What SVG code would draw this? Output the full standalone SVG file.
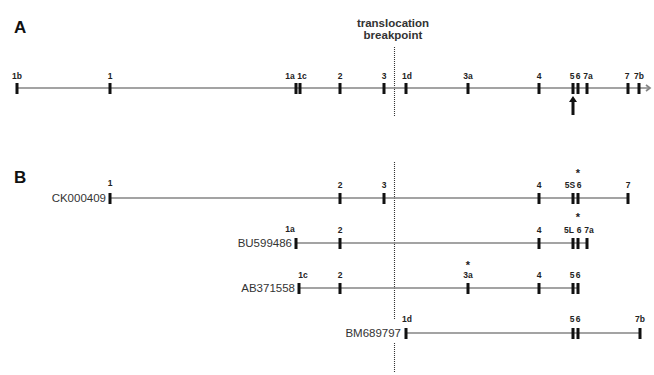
<svg xmlns="http://www.w3.org/2000/svg" width="654" height="375" viewBox="0 0 654 375">
<defs>
<style>
.ln{stroke:#858585;stroke-width:1.7;fill:none}
.ex{fill:#111}
.lb{font-family:"Liberation Sans",Arial,sans-serif;font-size:8.5px;font-weight:bold;fill:#222;text-anchor:middle}
.nm{font-family:"Liberation Sans",Arial,sans-serif;font-size:11.5px;fill:#333;text-anchor:end}
.pn{font-family:"Liberation Sans",Arial,sans-serif;font-size:17px;font-weight:bold;fill:#111}
.tt{font-family:"Liberation Sans",Arial,sans-serif;font-size:11.5px;font-weight:bold;fill:#333;text-anchor:middle}
.st{font-family:"Liberation Sans",Arial,sans-serif;font-size:11px;font-weight:bold;fill:#222;text-anchor:middle}
.dt{stroke:#333;stroke-width:1.1;stroke-dasharray:1,1;fill:none}
</style>
</defs>
<rect width="654" height="375" fill="#fff"/>
<text class="pn" x="14" y="33">A</text>
<text class="pn" x="14" y="183">B</text>
<g id="breakpoint">
<text class="tt" x="393" y="27">translocation</text>
<text class="tt" x="393" y="39">breakpoint</text>
<line class="dt" x1="394.5" y1="47" x2="394.5" y2="116"/>
<line class="dt" x1="394.5" y1="162" x2="394.5" y2="320"/>
<line class="dt" x1="394.5" y1="343" x2="394.5" y2="372"/>
</g>
<g id="connectors">
<line class="ln" x1="17" y1="88" x2="650" y2="88"/>
<polyline class="ln" points="646,85 650,88 646,91" stroke-width="1.2"/>
<line class="ln" x1="110" y1="198" x2="628" y2="198"/>
<line class="ln" x1="296" y1="243" x2="587" y2="243"/>
<line class="ln" x1="299" y1="288" x2="578" y2="288"/>
<line class="ln" x1="406" y1="333" x2="640" y2="333"/>
</g>
<g id="genomic">
<g class="ex">
<rect x="15.5" y="83" width="3" height="11"/>
<rect x="108.5" y="83" width="3" height="11"/>
<rect x="294.5" y="83" width="3" height="11"/>
<rect x="298.5" y="83" width="3" height="11"/>
<rect x="338.5" y="83" width="3" height="11"/>
<rect x="382.5" y="83" width="3" height="11"/>
<rect x="404.5" y="83" width="3" height="11"/>
<rect x="466.5" y="83" width="3" height="11"/>
<rect x="537.5" y="83" width="3" height="11"/>
<rect x="571.5" y="83" width="3" height="11"/>
<rect x="576.5" y="83" width="3" height="11"/>
<rect x="585.5" y="83" width="3" height="11"/>
<rect x="626.5" y="83" width="3" height="11"/>
<rect x="637.5" y="83" width="3" height="11"/>
</g>
<text class="lb" x="17" y="79">1b</text>
<text class="lb" x="110" y="79">1</text>
<text class="lb" x="290" y="79">1a</text>
<text class="lb" x="302" y="79">1c</text>
<text class="lb" x="340" y="79">2</text>
<text class="lb" x="384" y="79">3</text>
<text class="lb" x="407" y="79">1d</text>
<text class="lb" x="468" y="79">3a</text>
<text class="lb" x="539" y="79">4</text>
<text class="lb" x="572" y="79">5</text>
<text class="lb" x="578" y="79">6</text>
<text class="lb" x="588" y="79">7a</text>
<text class="lb" x="627" y="79">7</text>
<text class="lb" x="639" y="79">7b</text>
<polygon class="ex" points="573,96 569,102 571.5,102 571.5,115 574.5,115 574.5,102 577,102"/>
</g>
<g id="CK000409">
<text class="nm" x="106" y="202">CK000409</text>
<g class="ex">
<rect x="108.5" y="193" width="3" height="11"/>
<rect x="338.5" y="193" width="3" height="11"/>
<rect x="382.5" y="193" width="3" height="11"/>
<rect x="537.5" y="193" width="3" height="11"/>
<rect x="571.5" y="193" width="3" height="11"/>
<rect x="576.5" y="193" width="3" height="11"/>
<rect x="626.5" y="193" width="3" height="11"/>
</g>
<text class="lb" x="110" y="186">1</text>
<text class="lb" x="340" y="188">2</text>
<text class="lb" x="384" y="188">3</text>
<text class="lb" x="539" y="188">4</text>
<text class="lb" x="570" y="188">5S</text>
<text class="lb" x="579" y="188">6</text>
<text class="lb" x="628" y="188">7</text>
<text class="st" x="578" y="177">*</text>
</g>
<g id="BU599486">
<text class="nm" x="292" y="247">BU599486</text>
<g class="ex">
<rect x="294.5" y="238" width="3" height="11"/>
<rect x="338.5" y="238" width="3" height="11"/>
<rect x="537.5" y="238" width="3" height="11"/>
<rect x="571.5" y="238" width="3" height="11"/>
<rect x="576.5" y="238" width="3" height="11"/>
<rect x="585.5" y="238" width="3" height="11"/>
</g>
<text class="lb" x="290" y="232">1a</text>
<text class="lb" x="340" y="233">2</text>
<text class="lb" x="539" y="233">4</text>
<text class="lb" x="569" y="233">5L</text>
<text class="lb" x="579" y="233">6</text>
<text class="lb" x="589" y="233">7a</text>
<text class="st" x="578" y="221">*</text>
</g>
<g id="AB371558">
<text class="nm" x="295" y="292">AB371558</text>
<g class="ex">
<rect x="297.5" y="283" width="3" height="11"/>
<rect x="338.5" y="283" width="3" height="11"/>
<rect x="466.5" y="283" width="3" height="11"/>
<rect x="537.5" y="283" width="3" height="11"/>
<rect x="571.5" y="283" width="3" height="11"/>
<rect x="576.5" y="283" width="3" height="11"/>
</g>
<text class="lb" x="303" y="278">1c</text>
<text class="lb" x="340" y="278">2</text>
<text class="lb" x="468" y="278">3a</text>
<text class="lb" x="539" y="278">4</text>
<text class="lb" x="572" y="278">5</text>
<text class="lb" x="578" y="278">6</text>
<text class="st" x="468" y="269">*</text>
</g>
<g id="BM689797">
<text class="nm" x="401" y="337">BM689797</text>
<g class="ex">
<rect x="404.5" y="328" width="3" height="11"/>
<rect x="571.5" y="328" width="3" height="11"/>
<rect x="576.5" y="328" width="3" height="11"/>
<rect x="638.5" y="328" width="3" height="11"/>
</g>
<text class="lb" x="407" y="322">1d</text>
<text class="lb" x="572" y="322">5</text>
<text class="lb" x="578" y="322">6</text>
<text class="lb" x="640" y="322">7b</text>
</g>
</svg>
